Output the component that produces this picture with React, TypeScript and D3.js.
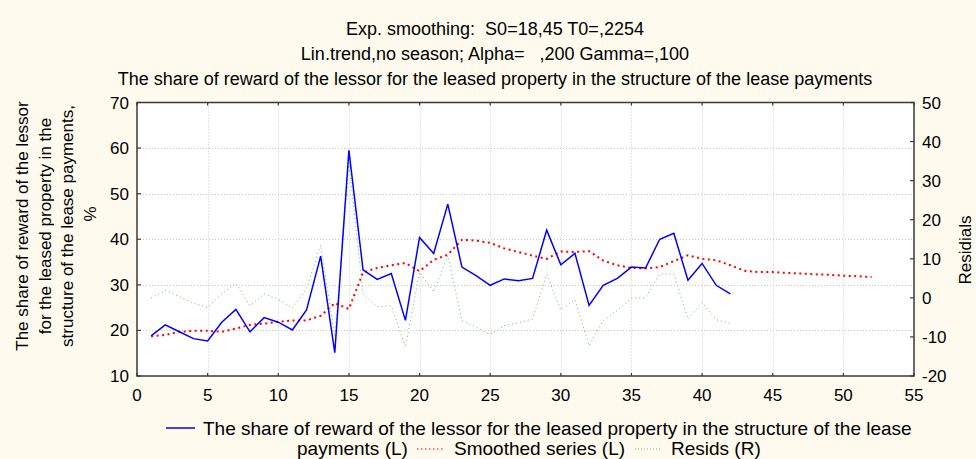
import React, { useEffect, useRef } from 'react';
import * as d3 from 'd3';

// values
const observed = [18.8, 21.2, 19.7, 18.2, 17.7, 21.8, 24.6, 19.7, 22.8, 21.8, 20.1, 24.5, 36.3, 15.1, 59.5, 33.3, 31.2, 32.5, 22.2, 40.4, 36.9, 47.7, 33.9, 32.0, 29.9, 31.3, 30.9, 31.4, 42.0, 34.4, 36.9, 25.5, 29.9, 31.4, 33.9, 33.7, 40.0, 41.3, 31.0, 34.7, 29.9, 28.0];
const smoothed = [18.7, 19.0, 19.7, 19.9, 19.9, 19.7, 20.4, 21.2, 21.5, 21.9, 22.2, 22.2, 23.2, 26.0, 24.7, 32.7, 33.7, 34.3, 34.8, 33.0, 35.5, 36.6, 39.9, 39.7, 39.2, 38.0, 37.2, 36.4, 35.7, 37.3, 37.2, 37.4, 35.3, 34.3, 33.7, 33.6, 33.9, 35.2, 36.5, 35.7, 35.4, 34.3, 33.1, 32.8, 32.8, 32.6, 32.5, 32.3, 32.2, 32.0, 31.9, 31.7];
const resids = [0.0, 1.9, 0.3, -1.4, -2.4, 1.0, 3.8, -2.0, 1.0, -0.4, -2.6, 2.3, 13.5, -10.0, 34.5, 1.0, -2.3, -2.0, -12.6, 6.6, 1.5, 10.8, -5.8, -7.5, -9.4, -7.1, -6.4, -5.4, 6.0, -3.1, -0.5, -12.2, -5.8, -3.2, 0.0, 0.0, 6.1, 6.1, -5.4, -1.2, -5.6, -6.6];

const xTicks = [0, 5, 10, 15, 20, 25, 30, 35, 40, 45, 50, 55];
const leftTicks = [10, 20, 30, 40, 50, 60, 70];
const rightTicks = [-20, -10, 0, 10, 20, 30, 40, 50];

const NB = '\u00A0';
const titles = [
  `Exp. smoothing:${NB}${NB}S0=18,45 T0=,2254`,
  `Lin.trend,no season; Alpha=${NB}${NB}${NB},200 Gamma=,100`,
  'The share of reward of the lessor for the leased property in the structure of the lease payments',
];
const yLabelLines = [
  'The share of reward of the lessor',
  'for the leased property in the',
  'structure of the lease payments,',
  '%',
];

const W = 976;
const H = 459;
const FONT = 'Liberation Sans, Arial, sans-serif';

const App = () => {
  const svgRef = useRef(null);

  useEffect(() => {
    const svg = d3.select(svgRef.current);
    svg.selectAll('*').remove();

    const margin = { top: 102.5, right: 62, bottom: 83, left: 137 };
    const x0 = margin.left;
    const x1 = W - margin.right;
    const y0 = H - margin.bottom;
    const y1 = margin.top;

    svg.append('rect').attr('width', W).attr('height', H).attr('fill', '#FFFAEE');

    const x = d3.scaleLinear().domain([0, 55]).range([x0, x1]);
    const yL = d3.scaleLinear().domain([10, 70]).range([y0, y1]);
    const yR = d3.scaleLinear().domain([-20, 50]).range([y0, y1]);

    svg.append('rect')
      .attr('x', x0).attr('y', y1)
      .attr('width', x1 - x0).attr('height', y0 - y1)
      .attr('fill', '#FFFFFF');

    // grid
    const grid = svg.append('g').attr('stroke', '#C8C8C8').attr('stroke-width', 1).attr('stroke-dasharray', '1,2');
    grid.selectAll('.gx').data(xTicks.slice(1, -1)).enter().append('line')
      .attr('x1', d => Math.round(x(d)) + 0.5).attr('x2', d => Math.round(x(d)) + 0.5)
      .attr('y1', y1).attr('y2', y0);
    grid.selectAll('.gy').data(leftTicks.slice(1, -1)).enter().append('line')
      .attr('x1', x0).attr('x2', x1)
      .attr('y1', d => Math.round(yL(d)) + 0.5).attr('y2', d => Math.round(yL(d)) + 0.5);

    // series
    const idx = (arr) => arr.map((v, i) => [i + 1, v]);
    const lineL = d3.line().x(d => x(d[0])).y(d => yL(d[1]));
    const lineR = d3.line().x(d => x(d[0])).y(d => yR(d[1]));

    svg.append('path').datum(idx(resids)).attr('d', lineR)
      .attr('fill', 'none').attr('stroke', '#70B870').attr('stroke-width', 1).attr('stroke-dasharray', '1,3');
    svg.append('path').datum(idx(smoothed)).attr('d', lineL)
      .attr('fill', 'none').attr('stroke', '#FF0000').attr('stroke-width', 2).attr('stroke-dasharray', '2,3.5');
    svg.append('path').datum(idx(observed)).attr('d', lineL)
      .attr('fill', 'none').attr('stroke', '#0000FF').attr('stroke-width', 1.5);

    // frame
    svg.append('rect')
      .attr('x', x0).attr('y', y1)
      .attr('width', x1 - x0).attr('height', y0 - y1)
      .attr('fill', 'none').attr('stroke', '#3A3A3A').attr('stroke-width', 1.5);

    // ticks (inside)
    const tk = svg.append('g').attr('stroke', '#3A3A3A').attr('stroke-width', 1.2);
    tk.selectAll('.tb').data(xTicks).enter().append('line')
      .attr('x1', d => x(d)).attr('x2', d => x(d)).attr('y1', y0).attr('y2', y0 - 3);
    tk.selectAll('.tt').data(xTicks).enter().append('line')
      .attr('x1', d => x(d)).attr('x2', d => x(d)).attr('y1', y1).attr('y2', y1 + 3);
    tk.selectAll('.tl').data(leftTicks).enter().append('line')
      .attr('x1', x0).attr('x2', x0 + 4).attr('y1', d => yL(d)).attr('y2', d => yL(d));
    tk.selectAll('.tr').data(rightTicks).enter().append('line')
      .attr('x1', x1).attr('x2', x1 - 4).attr('y1', d => yR(d)).attr('y2', d => yR(d));

    // tick labels
    const lab = svg.append('g').attr('font-family', FONT).attr('font-size', 17).attr('fill', '#000');
    lab.selectAll('.lx').data(xTicks).enter().append('text')
      .attr('x', d => x(d)).attr('y', y0 + 25).attr('text-anchor', 'middle').text(d => d);
    lab.selectAll('.ll').data(leftTicks).enter().append('text')
      .attr('x', x0 - 8).attr('y', d => yL(d) + 6).attr('text-anchor', 'end').text(d => d);
    lab.selectAll('.lr').data(rightTicks).enter().append('text')
      .attr('x', x1 + 8).attr('y', d => yR(d) + 6).attr('text-anchor', 'start').text(d => d);

    // titles
    const tt = svg.append('g').attr('font-family', FONT).attr('font-size', 18).attr('fill', '#000')
      .attr('text-anchor', 'middle');
    titles.forEach((t, i) => {
      tt.append('text').attr('x', 495).attr('y', 35 + i * 25).text(t);
    });

    // y labels
    const yl = svg.append('g').attr('font-family', FONT).attr('font-size', 17).attr('fill', '#000').attr('text-anchor', 'middle');
    yLabelLines.forEach((t, i) => {
      yl.append('text')
        .attr('transform', `translate(${28 + i * 22.5},${i === 3 ? 214 : 226}) rotate(-90)`)
        .text(t);
    });
    yl.append('text')
      .attr('transform', `translate(${971},${250}) rotate(-90)`)
      .text('Residials');

    // legend
    const lg = svg.append('g').attr('font-family', FONT).attr('font-size', 19).attr('fill', '#000');
    lg.append('line').attr('x1', 166).attr('x2', 195).attr('y1', 428).attr('y2', 428)
      .attr('stroke', '#0000FF').attr('stroke-width', 1.5);
    lg.append('text').attr('x', 203).attr('y', 435)
      .text('The share of reward of the lessor for the leased property in the structure of the lease');
    lg.append('text').attr('x', 297).attr('y', 455).text('payments (L)');
    lg.append('line').attr('x1', 417).attr('x2', 443).attr('y1', 449).attr('y2', 449)
      .attr('stroke', '#FF0000').attr('stroke-width', 1).attr('stroke-dasharray', '1.5,2.5');
    lg.append('text').attr('x', 454).attr('y', 455).text('Smoothed series (L)');
    lg.append('line').attr('x1', 635).attr('x2', 662).attr('y1', 449).attr('y2', 449)
      .attr('stroke', '#70B870').attr('stroke-width', 1).attr('stroke-dasharray', '1,2');
    lg.append('text').attr('x', 671).attr('y', 455).text('Resids (R)');
  }, []);

  return (
    <div style={{ position: 'absolute', left: 0, top: 0, width: W, height: H }}>
      <svg ref={svgRef} width={W} height={H} style={{ display: 'block' }} />
    </div>
  );
};

export default App;
